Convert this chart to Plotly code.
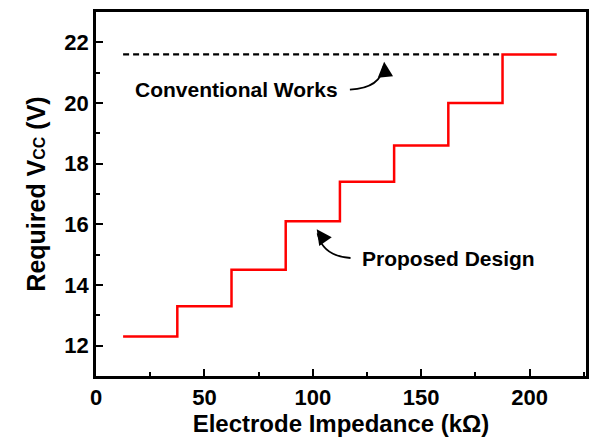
import plotly.graph_objects as go

# Step edges (kOhm) and required Vcc (V)
edges = [12.5, 37.5, 62.5, 87.5, 112.5, 137.5, 162.5, 187.5, 212.5]
vcc_proposed = [12.3, 13.3, 14.5, 16.1, 17.4, 18.6, 20.0, 21.6]
conv_x = [12.5, 187.5]
conv_vcc = [21.6, 21.6]

x_ticks = [0, 50, 100, 150, 200]
y_ticks = [12, 14, 16, 18, 20, 22]

# build step line
sx, sy = [], []
for i, v in enumerate(vcc_proposed):
    sx += [edges[i], edges[i + 1]]
    sy += [v, v]

FONT = "Liberation Sans, Arial, sans-serif"

fig = go.Figure()
fig.add_trace(go.Scatter(x=conv_x, y=conv_vcc, mode="lines",
                         line=dict(color="black", width=2.2, dash="6px,4px"),
                         showlegend=False, hoverinfo="skip"))
fig.add_trace(go.Scatter(x=sx, y=sy, mode="lines",
                         line=dict(color="#ff0000", width=2.5),
                         showlegend=False, hoverinfo="skip"))

axis_common = dict(
    showgrid=False, zeroline=False, showline=True, linecolor="black",
    linewidth=2.5, mirror=True, ticks="inside", ticklen=7, tickwidth=2,
    tickcolor="black",
    tickfont=dict(family=FONT, size=22, color="black", weight="bold"),
)

fig.update_xaxes(range=[0, 226], tickvals=x_ticks,
                 ticktext=[f"<b>{t}</b>" for t in x_ticks],
                 minor=dict(ticks="inside", ticklen=4, tickwidth=2,
                            tickcolor="black", dtick=25, tick0=0),
                 title=dict(text="<b>Electrode Impedance (kΩ)</b>",
                            font=dict(family=FONT, size=24, color="black"),
                            standoff=6),
                 **axis_common)
fig.update_yaxes(range=[11, 23], tickvals=y_ticks,
                 ticktext=[f"<b>{t}</b>" for t in y_ticks],
                 minor=dict(ticks="inside", ticklen=4, tickwidth=2,
                            tickcolor="black", dtick=1, tick0=11),
                 title=dict(text="<b>Required V<span style='font-size:16px'>CC</span> (V)</b>",
                            font=dict(family=FONT, size=25, color="black"),
                            standoff=12),
                 **axis_common)

# curved arrow bodies
fig.add_shape(type="path", path="M 117.1,20.44 Q 131.5,20.5 132.5,21.2",
              xref="x", yref="y", line=dict(color="black", width=1.8))
fig.add_shape(type="path", path="M 117.4,14.89 Q 104.5,14.95 102.2,15.7",
              xref="x", yref="y", line=dict(color="black", width=1.8))

# arrow heads
fig.add_annotation(x=132.9, y=21.36, ax=1, ay=12, text="", showarrow=True,
                   arrowhead=2, arrowsize=1.7, arrowwidth=1.8, arrowcolor="black",
                   xref="x", yref="y")
fig.add_annotation(x=101.8, y=15.84, ax=7, ay=10, text="", showarrow=True,
                   arrowhead=2, arrowsize=1.7, arrowwidth=1.8, arrowcolor="black",
                   xref="x", yref="y")

fig.add_annotation(x=64.8, y=20.44, text="<b>Conventional Works</b>", showarrow=False,
                   font=dict(family=FONT, size=21, color="black"), xref="x", yref="y")
fig.add_annotation(x=162.6, y=14.89, text="<b>Proposed Design</b>", showarrow=False,
                   font=dict(family=FONT, size=21, color="black"), xref="x", yref="y")

fig.update_layout(width=589, height=441, margin=dict(l=96, r=0, t=12, b=65),
                  plot_bgcolor="white", paper_bgcolor="white")

fig.write_html("out.html")
